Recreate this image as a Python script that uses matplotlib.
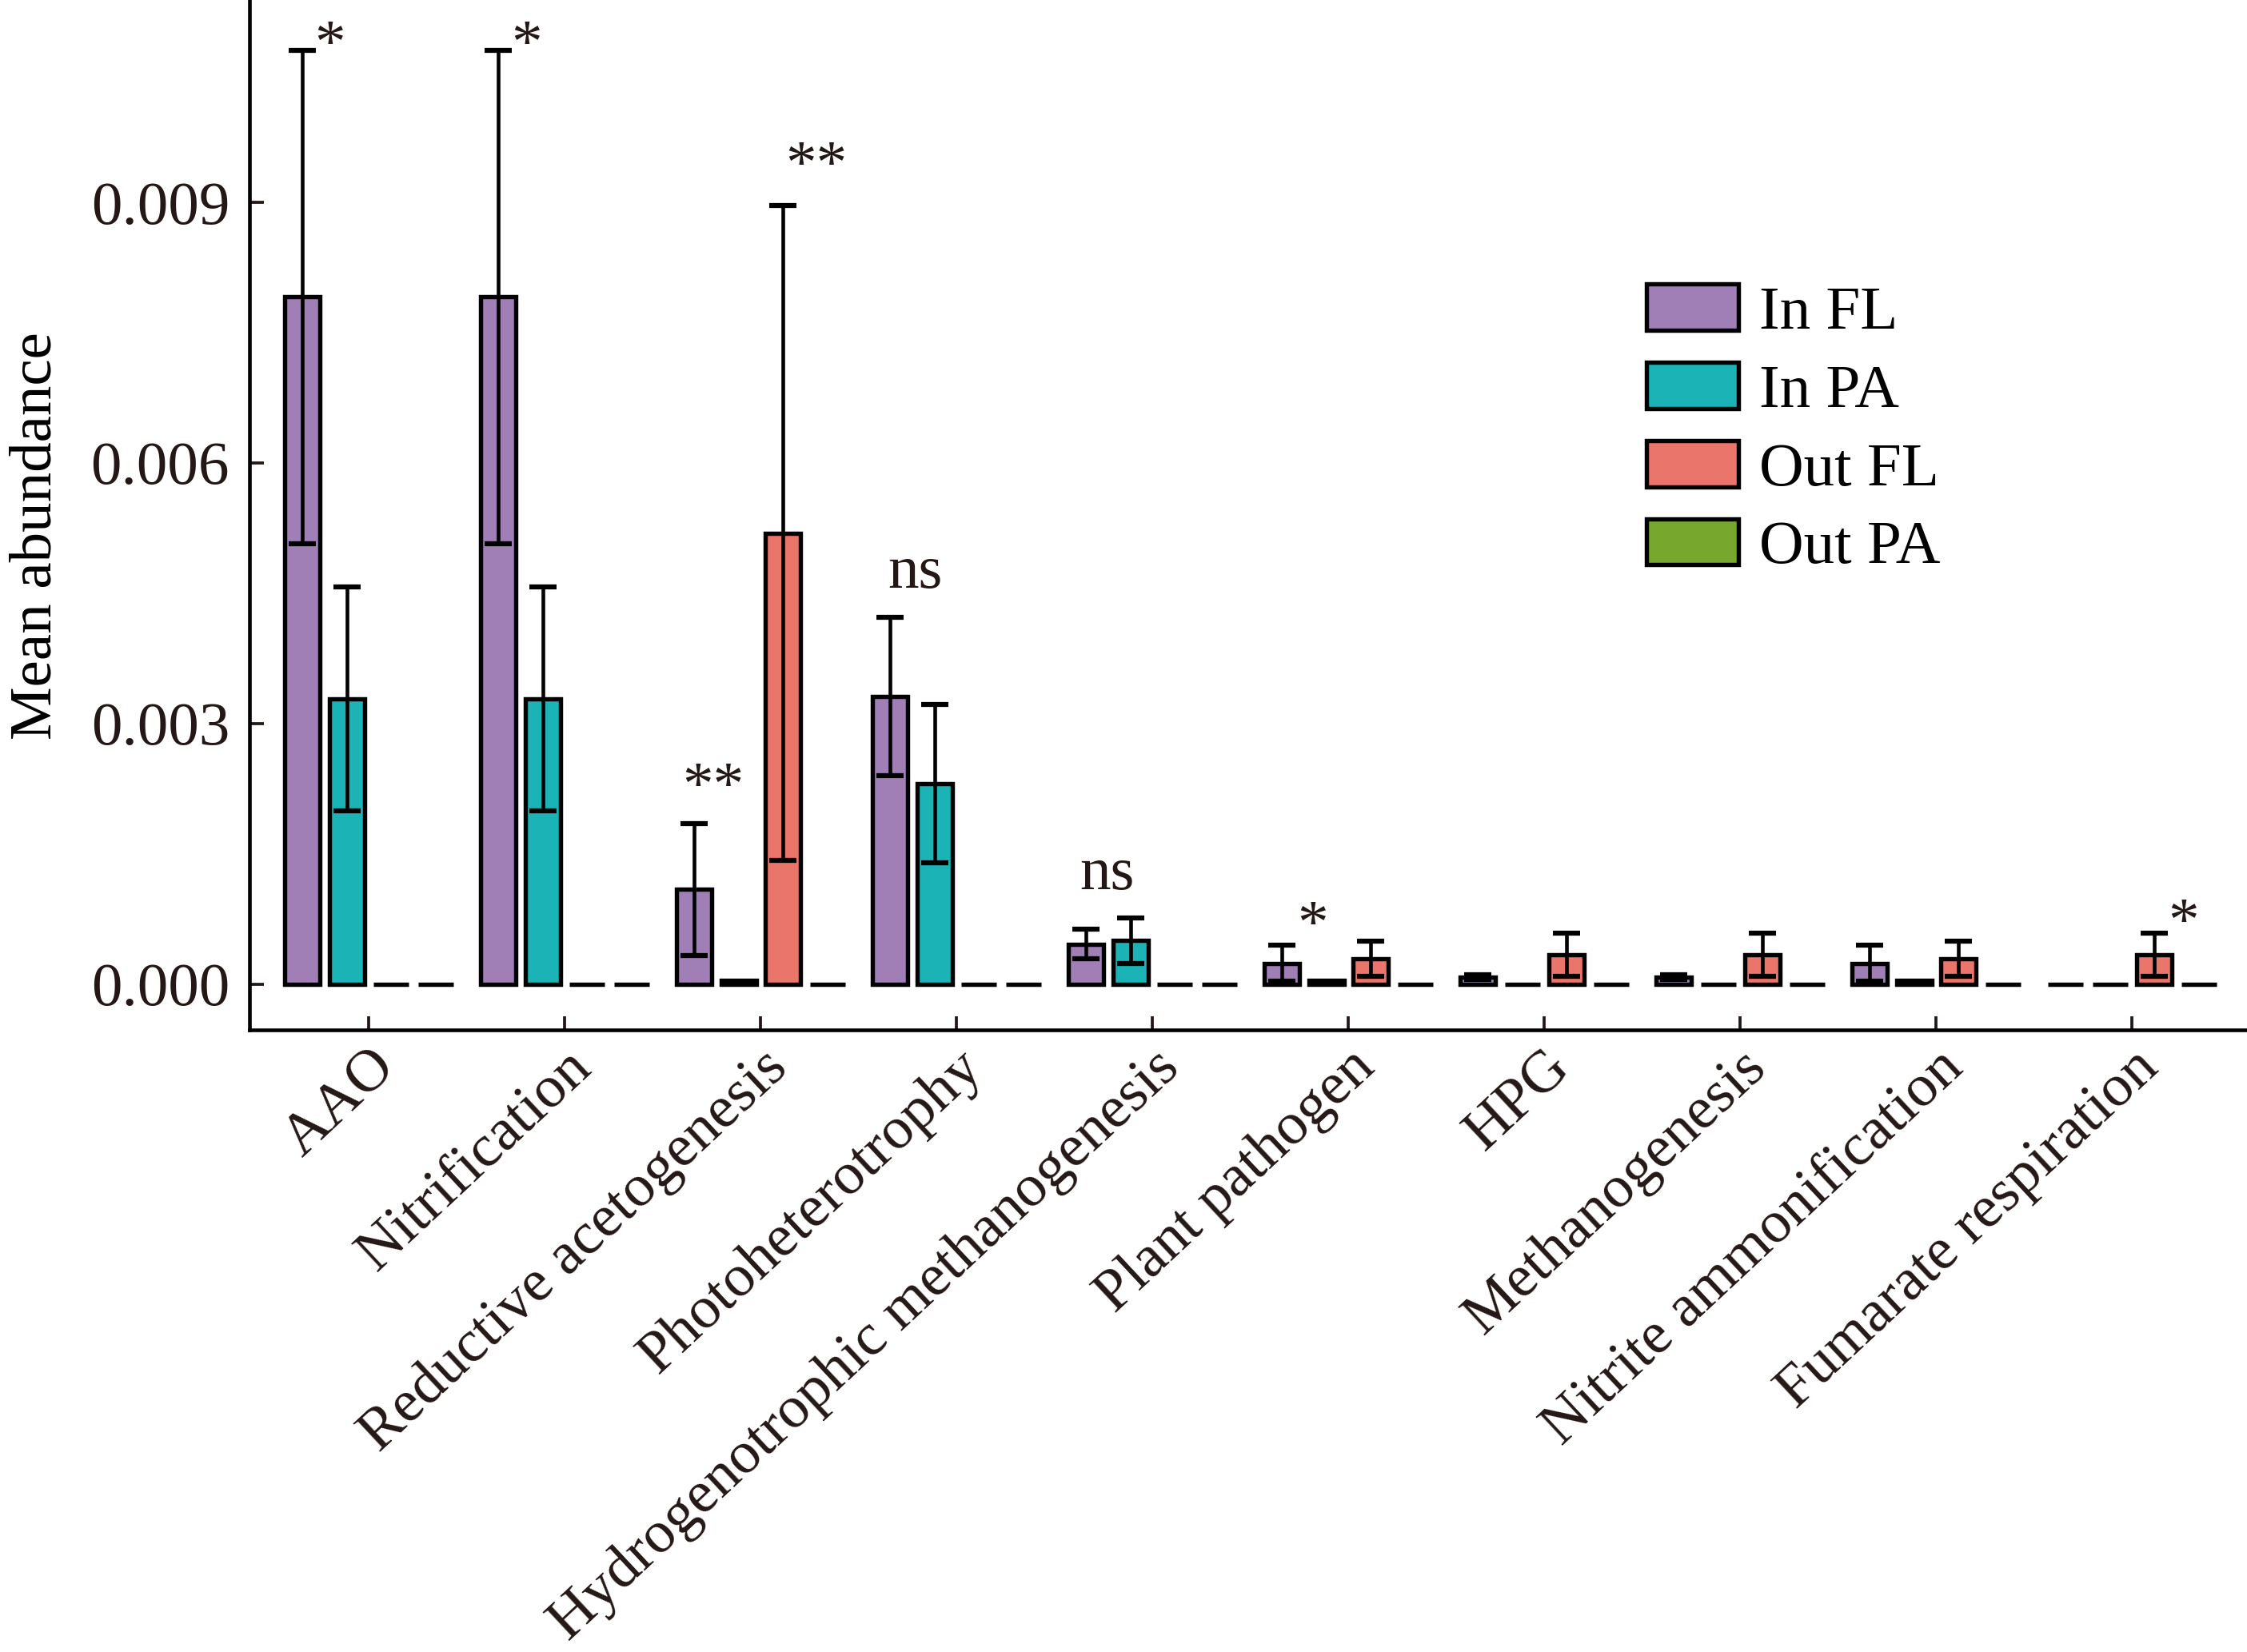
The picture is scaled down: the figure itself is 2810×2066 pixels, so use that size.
import matplotlib
matplotlib.use("Agg")
import matplotlib.pyplot as plt
import matplotlib.transforms as mtransforms
import numpy as np

categories = ["AAO", "Nitrification", "Reductive acetogenesis", "Photoheterotrophy",
              "Hydrogenotrophic methanogenesis", "Plant pathogen", "HPG",
              "Methanogenesis", "Nitrite ammonification", "Fumarate respiration"]
series_names = ["In FL", "In PA", "Out FL", "Out PA"]

in_fl = [0.00791, 0.00791, 0.00109, 0.00331, 0.00046, 0.00024, 0.00008, 0.00008, 0.00024, 0.0]
in_fl_err = [0.00284, 0.00284, 0.00076, 0.00091, 0.00017, 0.00021, 0.00003, 0.00003, 0.00021, 0.0]
in_pa = [0.00328, 0.00328, 0.00004, 0.00231, 0.00050, 0.00004, 0.0, 0.0, 0.00004, 0.0]
in_pa_err = [0.00129, 0.00129, 0.0, 0.00091, 0.00026, 0.0, 0.0, 0.0, 0.0, 0.0]
out_fl = [0.0, 0.0, 0.00519, 0.0, 0.0, 0.00029, 0.00034, 0.00034, 0.00029, 0.00034]
out_fl_err = [0.0, 0.0, 0.00377, 0.0, 0.0, 0.00020, 0.00025, 0.00025, 0.00020, 0.00025]
out_pa = [0.0] * 10
out_pa_err = [0.0] * 10

sig_labels = ["*", "*", "**", "**", "ns", "ns", "*", "*"]
sig_cat = [0, 1, 2, 2, 3, 4, 5, 9]
sig_y = [0.01062, 0.01062, 0.00208, 0.00923, 0.00456, 0.00109, 0.00048, 0.00051]
sig_dx = [-0.198, -0.195, -0.244, 0.283, -0.212, -0.232, -0.185, 0.263]

yticks = [0.0, 0.003, 0.006, 0.009]

colors = ["#A07FB7", "#1BB3B5", "#EA756B", "#78A72D"]

plt.rcParams['font.family'] = ['Liberation Serif', 'DejaVu Serif']
plt.rcParams['font.size'] = 18.5

fig = plt.figure(figsize=(2811 / 300, 2066 / 300), dpi=300)
ax = fig.add_axes([0.111, 0.3766, 0.889, 0.6234])

x = np.arange(len(categories))
slot = 0.2268
width = 0.18
values = [in_fl, in_pa, out_fl, out_pa]
errors = [in_fl_err, in_pa_err, out_fl_err, out_pa_err]
for i, (vals, errs) in enumerate(zip(values, errors)):
    pos = x + (i - 1.5) * slot
    ax.bar(pos, vals, width=width, color=colors[i], edgecolor="black",
           linewidth=1.3, label=series_names[i], zorder=2)
    vals_a = np.array(vals)
    errs_a = np.array(errs)
    m = errs_a > 0
    if m.any():
        ax.errorbar(pos[m], vals_a[m], yerr=errs_a[m], fmt="none", ecolor="black",
                    elinewidth=1.1, capsize=4.0, capthick=1.5, zorder=3)

for lab, c, yv, dx in zip(sig_labels, sig_cat, sig_y, sig_dx):
    ax.text(c + dx, yv, lab, ha="center", va="baseline", fontsize=18.5, color="#231815")

ax.set_xlim(-0.61, 9.59)
ax.set_ylim(-0.000528, 0.01133)
ax.set_yticks(yticks)
ax.set_yticklabels([f"{v:.3f}" for v in yticks])
ax.set_xticks(x)
ax.set_xticklabels(categories, rotation=43, ha="right", rotation_mode="anchor", fontsize=18)
shift = mtransforms.ScaledTranslation(-2 / 72, 0, fig.dpi_scale_trans)
for lbl in ax.get_xticklabels():
    lbl.set_transform(lbl.get_transform() + shift)
ax.set_ylabel("Mean abundance", fontsize=18)
ax.yaxis.set_label_coords(-0.093, 0.48)

for s in ["top", "right"]:
    ax.spines[s].set_visible(False)
for s in ["left", "bottom"]:
    ax.spines[s].set_linewidth(1.1)
ax.tick_params(axis="both", direction="in", length=4.2, width=0.9, colors="#231815")
ax.tick_params(axis="x", pad=3)
ax.tick_params(axis="y", pad=6)

leg = ax.legend(loc="upper left", bbox_to_anchor=(0.699, 0.724), frameon=False,
                borderpad=0, borderaxespad=0, handlelength=1.5, handleheight=0.77,
                handletextpad=0.33, labelspacing=0.34, fontsize=18.5)

fig.savefig("out.png", dpi=300)
